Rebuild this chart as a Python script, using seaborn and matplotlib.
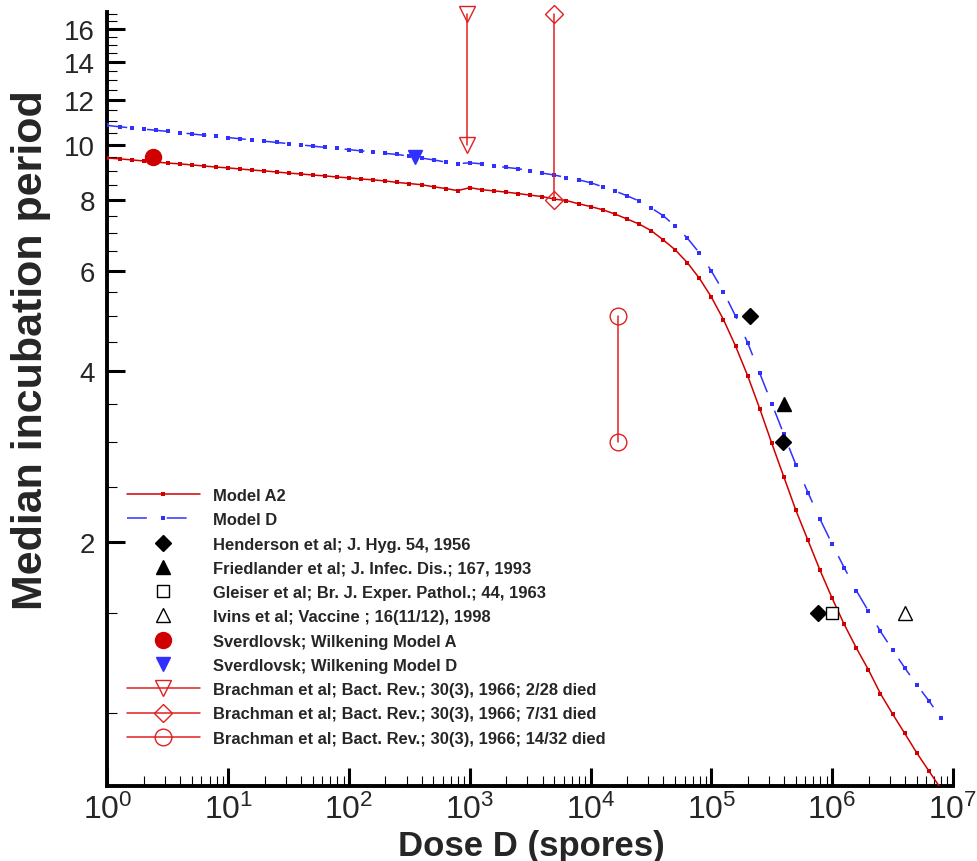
import numpy as np
import pandas as pd
import matplotlib
matplotlib.use("Agg")
import matplotlib.pyplot as plt
import seaborn as sns
from matplotlib.ticker import FixedLocator, FixedFormatter, NullFormatter

# marker positions of both model curves: log10(dose), one every 0.1 decade
log_dose = [0.0, 0.1, 0.2, 0.3, 0.4, 0.5, 0.6, 0.7, 0.8, 0.9,
            1.0, 1.1, 1.2, 1.3, 1.4, 1.5, 1.6, 1.7, 1.8, 1.9,
            2.0, 2.1, 2.2, 2.3, 2.4, 2.5, 2.6, 2.7, 2.8, 2.9,
            3.0, 3.1, 3.2, 3.3, 3.4, 3.5, 3.6, 3.7, 3.8, 3.9,
            4.0, 4.1, 4.2, 4.3, 4.4, 4.5, 4.6, 4.7, 4.8, 4.9,
            5.0, 5.1, 5.2, 5.3, 5.4, 5.5, 5.6, 5.7, 5.8, 5.9,
            6.0, 6.1, 6.2, 6.3, 6.4, 6.5, 6.6, 6.7, 6.8, 6.9]

model_a2 = [9.47, 9.44, 9.40, 9.36, 9.32, 9.28, 9.25, 9.21, 9.17, 9.13,
            9.10, 9.06, 9.02, 8.99, 8.95, 8.91, 8.88, 8.84, 8.81, 8.77,
            8.74, 8.70, 8.67, 8.63, 8.58, 8.54, 8.50, 8.43, 8.37, 8.30,
            8.40, 8.33, 8.29, 8.25, 8.20, 8.15, 8.10, 8.02, 7.97, 7.87,
            7.78, 7.68, 7.55, 7.40, 7.25, 7.06, 6.80, 6.53, 6.20, 5.82,
            5.39, 4.92, 4.42, 3.92, 3.43, 2.98, 2.60, 2.27, 2.01, 1.78,
            1.59, 1.43, 1.30, 1.19, 1.08, 0.995, 0.92, 0.85, 0.79, 0.735]

model_d = [10.81, 10.75, 10.70, 10.65, 10.60, 10.55, 10.50, 10.44, 10.39, 10.34,
           10.29, 10.24, 10.19, 10.14, 10.09, 10.04, 9.99, 9.94, 9.89, 9.85,
           9.80, 9.75, 9.70, 9.65, 9.61, 9.54, 9.47, 9.40, 9.32, 9.26,
           9.29, 9.25, 9.17, 9.12, 9.07, 8.99, 8.91, 8.84, 8.75, 8.67,
           8.57, 8.43, 8.29, 8.13, 7.96, 7.74, 7.50, 7.19, 6.85, 6.45,
           5.99, 5.51, 4.99, 4.48, 3.96, 3.50, 3.09, 2.73, 2.44, 2.19,
           1.98, 1.80, 1.64, 1.51, 1.39, 1.29, 1.20, 1.12, 1.05, 0.98]

# experimental points
henderson_dose = [2.1e5, 3.9e5, 7.7e5]
henderson_t = [5.0, 3.0, 1.5]
friedlander_dose = [4.0e5]
friedlander_t = [3.5]
gleiser_dose = [1.0e6]
gleiser_t = [1.5]
ivins_dose = [4.0e6]
ivins_t = [1.5]
sverd_a_dose = [2.4]
sverd_a_t = [9.5]
sverd_d_dose = [350]
sverd_d_t = [9.5]
brach_228_dose = [940, 940]
brach_228_t = [10.0, 17.0]
brach_731_dose = [5000, 5000]
brach_731_t = [8.0, 17.0]
brach_1432_dose = [1.7e4, 1.7e4]
brach_1432_t = [3.0, 5.0]

x_decades = [0, 1, 2, 3, 4, 5, 6, 7]
y_major = [2, 4, 6, 8, 10, 12, 14, 16]
y_minor = [1, 1.5, 2.5, 3, 3.5, 4.5, 5, 5.5, 6.5, 7, 7.5, 8.5, 9, 9.5,
           10.5, 11, 11.5, 12.5, 13, 13.5, 14.5, 15, 15.5, 16.5, 17]

sns.set_style("white")
plt.rcParams["font.family"] = ["Liberation Sans", "DejaVu Sans"]

RED = "#d00000"
BLUE = "#3030ff"
BRED = "#e02020"

curves = pd.DataFrame({"dose": 10 ** np.array(log_dose), "a2": model_a2, "d": model_d})

fig = plt.figure(figsize=(9.77, 8.62), dpi=100)
ax = fig.add_axes([0.1100, 0.0874, 0.8654, 0.8972])

sns.lineplot(data=curves, x="dose", y="a2", ax=ax, color=RED, lw=1.1, marker="s",
             markersize=3.2, markeredgewidth=0, markerfacecolor=RED, label="Model A2", zorder=3)
sns.lineplot(data=curves, x="dose", y="d", ax=ax, color=BLUE, lw=1.1, marker="s",
             markersize=3.2, markeredgewidth=0, markerfacecolor=BLUE, dashes=(13, 13),
             label="Model D", zorder=3)


def points(x, y, label, marker, ms, fc, ec, mew=1.0, ls="", z=5, clip=True):
    sns.lineplot(x=x, y=y, ax=ax, estimator=None, sort=False, errorbar=None,
                 color=ec, lw=1.1, linestyle=ls, marker=marker, markersize=ms,
                 markerfacecolor=fc, markeredgecolor=ec, markeredgewidth=mew,
                 label=label, zorder=z, clip_on=clip)


points(henderson_dose, henderson_t, "Henderson et al; J. Hyg. 54, 1956", "D", 8.3, "k", "k")
points(friedlander_dose, friedlander_t, "Friedlander et al; J. Infec. Dis.; 167, 1993", "^", 9.5, "k", "k")
points(gleiser_dose, gleiser_t, "Gleiser et al; Br. J. Exper. Pathol.; 44, 1963", "s", 8.5, "white", "k")
points(ivins_dose, ivins_t, "Ivins et al; Vaccine ; 16(11/12), 1998", "^", 10.5, "white", "k")
points(sverd_a_dose, sverd_a_t, "Sverdlovsk; Wilkening Model A", "o", 11.5, RED, RED)
points(sverd_d_dose, sverd_d_t, "Sverdlovsk; Wilkening Model D", "v", 9.5, BLUE, BLUE)
points(brach_228_dose, brach_228_t, "Brachman et al; Bact. Rev.; 30(3), 1966; 2/28 died", "v", 11,
       "none", BRED, ls="-", z=4, clip=False)
points(brach_731_dose, brach_731_t, "Brachman et al; Bact. Rev.; 30(3), 1966; 7/31 died", "D", 9,
       "none", BRED, ls="-", z=4, clip=False)
points(brach_1432_dose, brach_1432_t, "Brachman et al; Bact. Rev.; 30(3), 1966; 14/32 died", "o", 12,
       "none", BRED, ls="-", z=4)

ax.set_xscale("log")
ax.set_yscale("log")
ax.set_xlim(1, 1e7)
ax.set_ylim(0.744, 17.1)

x_major = [10.0 ** d for d in x_decades]
x_minor = [m * 10.0 ** d for d in x_decades[:-1] for m in range(2, 10)]
ax.xaxis.set_major_locator(FixedLocator(x_major))
ax.xaxis.set_major_formatter(FixedFormatter([r"$\mathregular{10^{%d}}$" % d for d in x_decades]))
ax.xaxis.set_minor_locator(FixedLocator(x_minor))
ax.xaxis.set_minor_formatter(NullFormatter())
ax.yaxis.set_major_locator(FixedLocator(y_major))
ax.yaxis.set_major_formatter(FixedFormatter([str(v) for v in y_major]))
ax.yaxis.set_minor_locator(FixedLocator(y_minor))
ax.yaxis.set_minor_formatter(NullFormatter())

for s in ["top", "right"]:
    ax.spines[s].set_visible(False)
for s in ["left", "bottom"]:
    ax.spines[s].set_linewidth(2.8)
    ax.spines[s].set_color("black")

ax.tick_params(which="both", left=True, bottom=True, right=False, top=False, direction="in", color="black")
ax.tick_params(which="major", length=13, width=2.2)
ax.tick_params(which="minor", length=7, width=0.8)
ax.tick_params(axis="y", which="major", labelsize=20, pad=9)
ax.tick_params(axis="x", which="major", labelsize=23, pad=6)

ax.set_xlabel("Dose D (spores)", fontsize=25, fontweight="bold")
ax.xaxis.label.set_va("center")
ax.xaxis.set_label_coords(0.501, -0.0775)
ax.set_ylabel("Median incubation period", fontsize=31, fontweight="bold")
ax.yaxis.label.set_va("center")
ax.yaxis.set_label_coords(-0.0905, 0.5647)

leg = ax.legend(loc="upper left", bbox_to_anchor=(127 / 977, 1 - 489 / 862), bbox_transform=fig.transFigure,
                frameon=False, borderpad=0, borderaxespad=0, handlelength=4.4, handletextpad=0.8,
                labelspacing=0.56, numpoints=1,
                prop={"weight": "bold", "size": 11.9})

fig.savefig("out.png", dpi=100)
